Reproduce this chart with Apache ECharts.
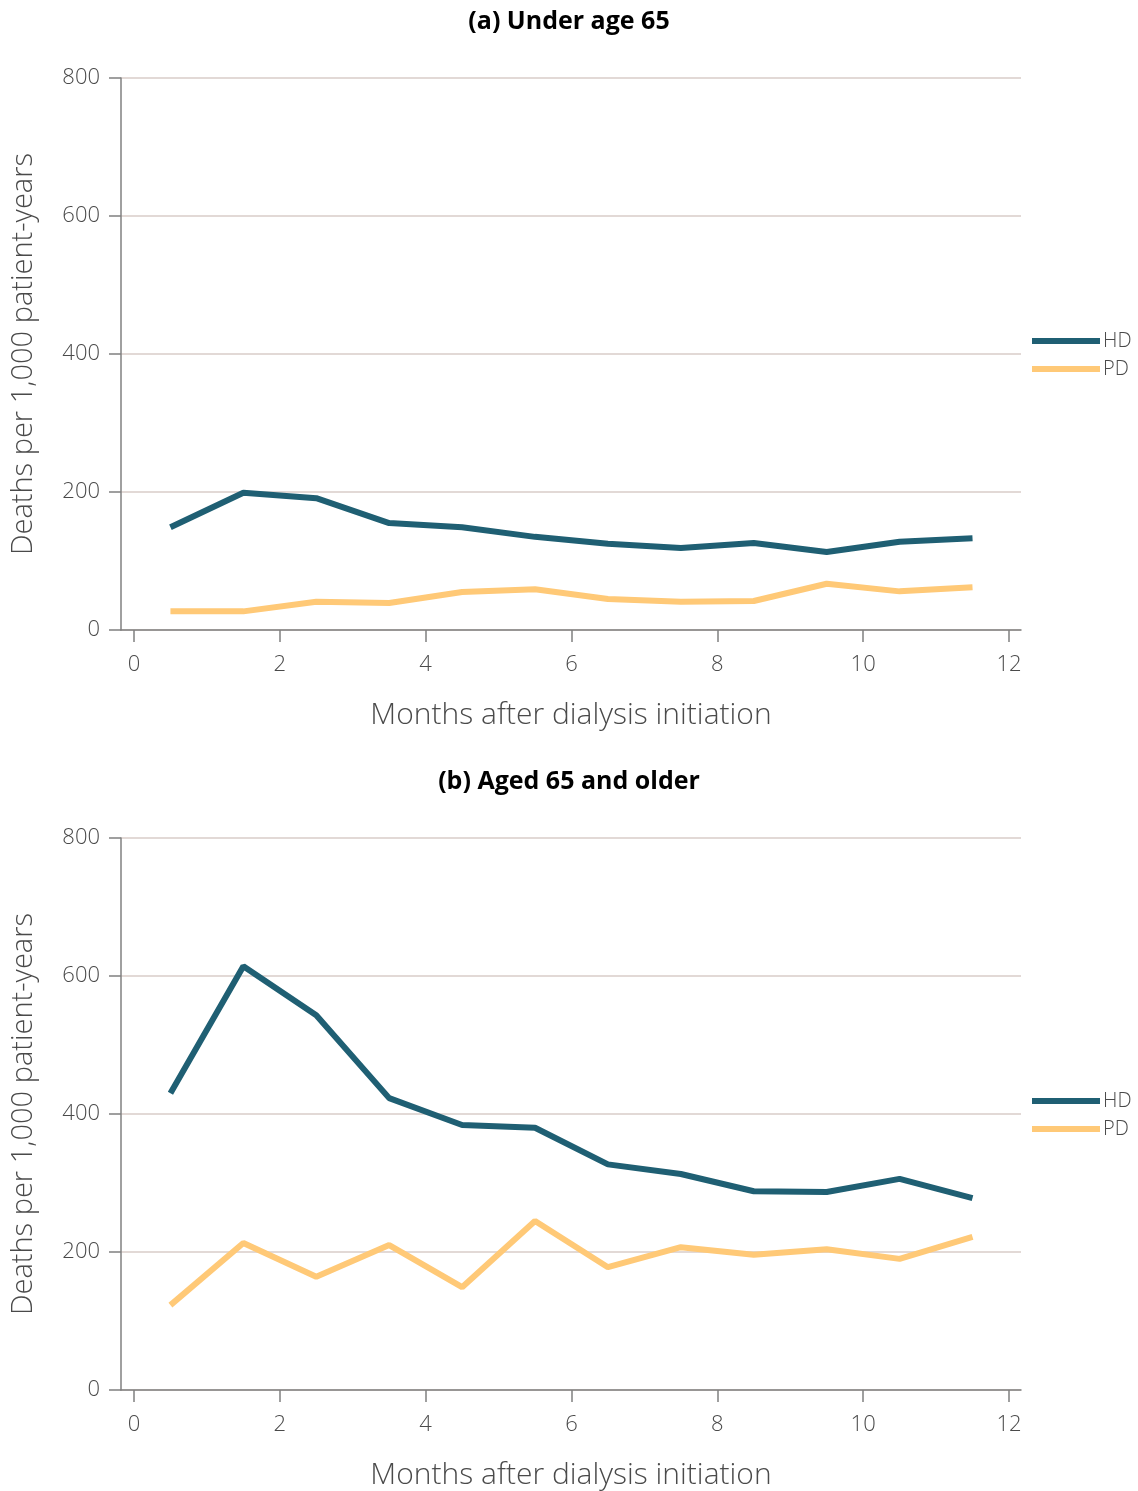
<!DOCTYPE html>
<html>
<head>
<meta charset="utf-8">
<script src="https://cdn.jsdelivr.net/npm/echarts@6/dist/echarts.min.js"></script>
<style>
  html, body { margin: 0; padding: 0; background: #ffffff; }
  #chart { width: 1138px; height: 1491px; }
</style>
</head>
<body>
<div id="chart"></div>
<script>
// Monthly death rates after dialysis initiation, by modality and age group
const monthMidpoints = [0.5, 1.5, 2.5, 3.5, 4.5, 5.5, 6.5, 7.5, 8.5, 9.5, 10.5, 11.5];
const xTickValues = [0, 2, 4, 6, 8, 10, 12];
const yTickValues = [0, 200, 400, 600, 800];

const hdUnder65 = [149, 199, 191, 155, 149, 135, 125, 119, 126, 113, 128, 133];
const pdUnder65 = [27, 27, 41, 39, 55, 59, 45, 41, 42, 67, 56, 62];
const hd65Plus = [430, 614, 543, 423, 384, 380, 327, 313, 288, 287, 306, 278];
const pd65Plus = [123, 213, 164, 210, 149, 245, 178, 207, 196, 204, 190, 222];

const panelTitles = ['(a) Under age 65', '(b) Aged 65 and older'];
const seriesNames = ['HD', 'PD'];
const xAxisName = 'Months after dialysis initiation';
const yAxisName = 'Deaths per 1,000 patient-years';

const HD_COLOR = '#1f5f73';
const PD_COLOR = '#ffc977';
const AXIS_COLOR = '#808080';
const GRID_COLOR = '#d8ccc9';
const LABEL_COLOR = '#4a4a4a';
const FONT = '"Open Sans", "Noto Sans", sans-serif';

function pairs(values) {
  return values.map((v, i) => [monthMidpoints[i], v]);
}

const grids = [
  { left: 121, right: 117, top: 78, height: 552 },
  { left: 121, right: 117, top: 838, height: 552 }
];

function xAxis(idx) {
  return {
    type: 'value',
    gridIndex: idx,
    min: -0.178,
    max: 12.165,
    name: xAxisName,
    nameLocation: 'middle',
    nameGap: 70,
    nameTextStyle: { fontFamily: FONT, fontSize: 30, color: LABEL_COLOR, fontWeight: 300 },
    axisLine: { show: true, onZero: false, lineStyle: { color: AXIS_COLOR, width: 1.5 } },
    axisTick: { show: true, length: 12, customValues: xTickValues, lineStyle: { color: AXIS_COLOR, width: 1.5 } },
    axisLabel: { customValues: xTickValues, margin: 24, fontFamily: FONT, fontSize: 22, color: LABEL_COLOR, fontWeight: 300 },
    splitLine: { show: false }
  };
}

function yAxis(idx) {
  return {
    type: 'value',
    gridIndex: idx,
    min: 0,
    max: 800,
    interval: 200,
    name: yAxisName,
    nameLocation: 'middle',
    nameGap: 83,
    nameTextStyle: { fontFamily: FONT, fontSize: 29, color: LABEL_COLOR, fontWeight: 300 },
    axisLine: { show: true, onZero: false, lineStyle: { color: AXIS_COLOR, width: 1.5 } },
    axisTick: { show: true, length: 12, lineStyle: { color: AXIS_COLOR, width: 1.5 } },
    axisLabel: { margin: 21, fontFamily: FONT, fontSize: 22, color: LABEL_COLOR, fontWeight: 300 },
    splitLine: { show: true, lineStyle: { color: GRID_COLOR, width: 1.5 } }
  };
}

function lineSeries(name, values, color, idx) {
  return {
    name: name,
    type: 'line',
    xAxisIndex: idx,
    yAxisIndex: idx,
    data: pairs(values),
    symbol: 'none',
    lineStyle: { color: color, width: 6 },
    itemStyle: { color: color },
    animation: false
  };
}

function legend(top) {
  return {
    orient: 'vertical',
    left: 1027,
    top: top,
    itemWidth: 68,
    itemHeight: 6,
    itemGap: 8,
    icon: 'rect',
    data: seriesNames,
    textStyle: { fontFamily: FONT, fontSize: 20, color: LABEL_COLOR, fontWeight: 300, padding: [0, 0, 0, -2] },
    selectedMode: false
  };
}

const option = {
  backgroundColor: '#ffffff',
  title: [
    { text: panelTitles[0], left: 'center', top: 4, textStyle: { fontFamily: FONT, fontSize: 25, fontWeight: 'bold', color: '#000000' } },
    { text: panelTitles[1], left: 'center', top: 764, textStyle: { fontFamily: FONT, fontSize: 25, fontWeight: 'bold', color: '#000000' } }
  ],
  grid: grids,
  xAxis: [xAxis(0), xAxis(1)],
  yAxis: [yAxis(0), yAxis(1)],
  legend: [
    Object.assign(legend(326), { id: 'legA' }),
    Object.assign(legend(1086), { id: 'legB' })
  ],
  series: [
    lineSeries('HD', hdUnder65, HD_COLOR, 0),
    lineSeries('PD', pdUnder65, PD_COLOR, 0),
    lineSeries('HD', hd65Plus, HD_COLOR, 1),
    lineSeries('PD', pd65Plus, PD_COLOR, 1)
  ]
};

const chart = echarts.init(document.getElementById('chart'), null, { renderer: 'canvas' });
chart.setOption(option);
</script>
</body>
</html>
